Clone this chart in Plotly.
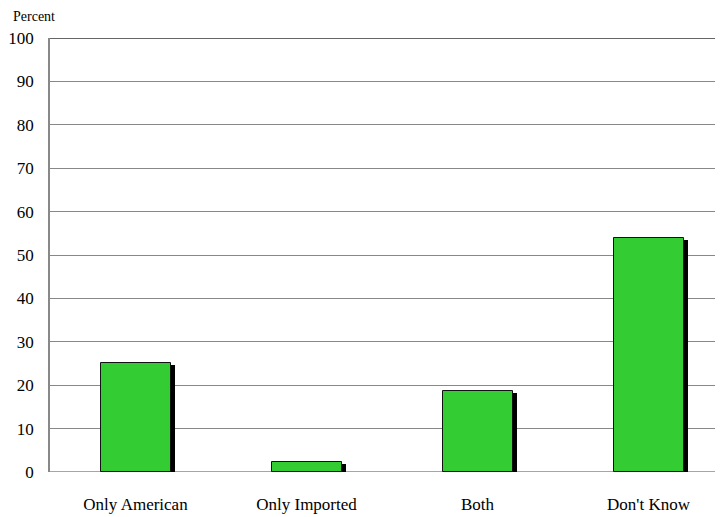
import plotly.graph_objects as go

categories = ["Only American", "Only Imported", "Both", "Don't Know"]
values = [25.2, 2.4, 18.6, 53.9]
y_ticks = [0, 10, 20, 30, 40, 50, 60, 70, 80, 90, 100]

# page body has an 8px margin; compensate so the plot lands where the reference has it
OFF = 8
W, H = 723 - OFF, 517 - OFF
L, T, B, R = 50 - OFF, 38 - OFF, 45, 0
plot_w = W - L - R
plot_h = H - T - B
band_px = 171
x_max = -0.5 + plot_w / band_px
px_x = 1.0 / band_px
px_y = 100.0 / plot_h

idx = list(range(len(categories)))
bar_w = 70 / band_px
FONT = "Liberation Serif"

fig = go.Figure()
# shadow
fig.add_trace(go.Bar(
    x=[i + 4 * px_x for i in idx], y=[v - 2 * px_y for v in values],
    width=bar_w, marker=dict(color="black", line=dict(width=0)),
    hoverinfo="skip", showlegend=False))
# bars
fig.add_trace(go.Bar(
    x=idx, y=values, width=bar_w,
    marker=dict(color="#33CC33", line=dict(color="#111111", width=1)),
    showlegend=False))

fig.add_shape(type="line", xref="paper", yref="y", x0=0, x1=1, y0=100, y1=100,
              line=dict(color="#333333", width=1.5))
fig.add_shape(type="line", xref="paper", yref="y", x0=0, x1=1, y0=0, y1=0,
              line=dict(color="#888888", width=1.5), layer="below")

fig.add_annotation(text="Percent", xref="paper", yref="paper",
                   x=(11 - 50) / plot_w, y=1 + (38 - 16) / plot_h,
                   xanchor="left", yanchor="middle", showarrow=False,
                   font=dict(family=FONT, size=14, color="black"))

fig.update_layout(
    width=W, height=H, barmode="overlay", bargap=0,
    margin=dict(l=L, r=R, t=T, b=B, pad=0),
    paper_bgcolor="white", plot_bgcolor="white",
    font=dict(family=FONT, color="black"),
    xaxis=dict(range=[-0.5, x_max], tickvals=idx, ticktext=categories,
               showgrid=False, zeroline=False, showline=False,
               ticks="", ticklabelstandoff=20,
               tickfont=dict(family=FONT, size=17, color="black")),
    yaxis=dict(range=[0, 100], tickvals=y_ticks, showgrid=True, gridcolor="#888888",
               gridwidth=1, zeroline=False, showline=True, linecolor="#888888",
               linewidth=1.5, ticks="", ticklabelstandoff=11,
               tickfont=dict(family=FONT, size=17, color="black")),
)

fig.write_html("out.html")
